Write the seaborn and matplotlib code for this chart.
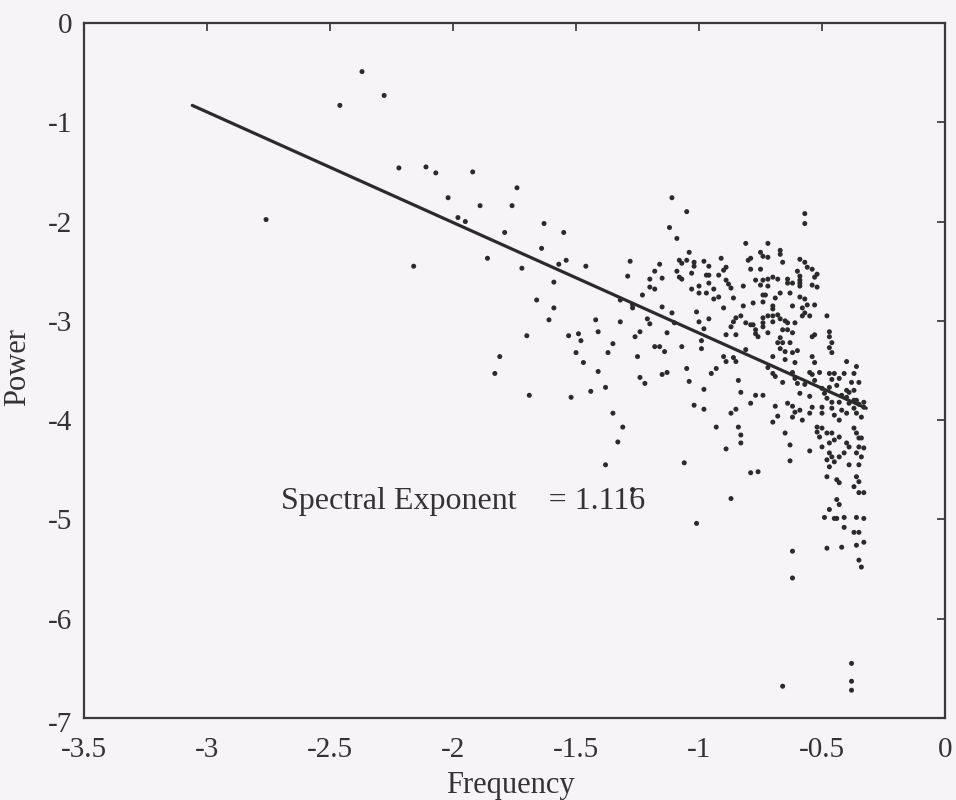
import matplotlib
matplotlib.use("Agg")
import matplotlib.pyplot as plt
import matplotlib.transforms as mtransforms
import seaborn as sns
import pandas as pd

# ---- data (log frequency, log power) ----
pts_left = [(-2.37,-0.49),(-2.28,-0.73),(-2.46,-0.83),(-2.22,-1.46),(-2.11,-1.45),(-2.07,-1.51),(-1.92,-1.50),(-1.74,-1.66),
            (-2.02,-1.76),(-1.89,-1.84),(-1.76,-1.84),(-2.76,-1.98),(-1.98,-1.96),(-1.95,-2.00),(-1.63,-2.02),(-1.79,-2.11),
            (-1.55,-2.11),(-1.64,-2.27),(-1.86,-2.37),(-2.16,-2.45),(-1.72,-2.47),(-1.57,-2.43),(-1.54,-2.39),(-1.46,-2.45),
            (-1.59,-2.61),(-1.66,-2.79),(-1.59,-2.87),(-1.61,-2.99),(-1.42,-2.99),(-1.70,-3.15),(-1.53,-3.15),(-1.49,-3.13),
            (-1.48,-3.20),(-1.41,-3.11),(-1.35,-3.23),(-1.50,-3.32),(-1.37,-3.32),(-1.81,-3.36),(-1.47,-3.42),(-1.83,-3.53),
            (-1.41,-3.51),(-1.69,-3.75),(-1.52,-3.77),(-1.44,-3.71),(-1.38,-3.67),(-1.35,-3.93),(-1.33,-4.22),(-1.38,-4.45)]

pts_mid = [(-1.11,-1.76),(-1.05,-1.90),(-1.12,-2.06),(-1.09,-2.17),(-1.04,-2.31),(-1.28,-2.40),(-1.16,-2.43),(-1.08,-2.39),
           (-1.07,-2.42),(-1.05,-2.39),(-1.02,-2.41),(-1.02,-2.45),(-0.98,-2.40),(-0.96,-2.45),(-1.29,-2.55),(-1.18,-2.50),
           (-1.09,-2.50),(-1.03,-2.52),(-0.97,-2.54),(-0.96,-2.54),(-1.20,-2.58),(-1.15,-2.57),(-1.08,-2.56),(-1.07,-2.58),
           (-0.92,-2.54),(-1.20,-2.66),(-1.18,-2.68),(-1.03,-2.68),(-1.00,-2.65),(-0.96,-2.62),(-1.00,-2.72),(-0.97,-2.72),
           (-0.94,-2.68),(-0.92,-2.76),(-0.94,-2.78),(-1.23,-2.74),(-1.32,-2.79),(-1.27,-2.84),(-1.27,-2.87),(-1.15,-2.86),
           (-1.01,-2.91),(-0.96,-2.98),(-1.32,-3.01),(-1.21,-2.98),(-1.20,-3.03),(-1.11,-2.92),(-1.10,-3.02),(-1.00,-3.01),
           (-1.24,-3.11),(-1.26,-3.16),(-1.13,-3.12),(-0.98,-3.08),(-0.99,-3.20),(-1.18,-3.26),(-1.16,-3.26),(-1.14,-3.31),
           (-1.07,-3.26),(-0.99,-3.28),(-1.25,-3.36),(-1.05,-3.48),(-0.93,-3.48),(-1.15,-3.54),(-1.13,-3.52),(-0.95,-3.53),
           (-1.24,-3.57),(-1.22,-3.63),(-1.04,-3.61),(-0.98,-3.69)]

pts_upper_right = [(-0.57,-1.92),(-0.57,-2.02),(-0.81,-2.22),(-0.72,-2.22),(-0.67,-2.29),(-0.67,-2.33),(-0.75,-2.31),(-0.74,-2.35),
           (-0.72,-2.36),(-0.91,-2.37),(-0.80,-2.39),(-0.79,-2.37),(-0.66,-2.41),(-0.59,-2.38),(-0.57,-2.41),(-0.56,-2.46),
           (-0.54,-2.48),(-0.89,-2.46),(-0.90,-2.49),(-0.79,-2.48),(-0.75,-2.48),(-0.60,-2.50),(-0.52,-2.53),(-0.59,-2.55),
           (-0.59,-2.59),(-0.59,-2.62),(-0.53,-2.56),(-0.89,-2.59),(-0.88,-2.63),(-0.87,-2.67),(-0.77,-2.59),(-0.74,-2.59),
           (-0.72,-2.58),(-0.70,-2.56),(-0.68,-2.58),(-0.64,-2.58),(-0.64,-2.62),(-0.62,-2.62),(-0.59,-2.65),(-0.82,-2.65),
           (-0.75,-2.64),(-0.72,-2.65),(-0.54,-2.64),(-0.52,-2.66),(-0.74,-2.74),(-0.73,-2.74),(-0.67,-2.72),(-0.63,-2.72),
           (-0.59,-2.76),(-0.57,-2.78),(-0.86,-2.77),(-0.69,-2.77),(-0.78,-2.82),(-0.74,-2.81),(-0.70,-2.85),(-0.62,-2.85),
           (-0.56,-2.84),(-0.53,-2.84),(-0.90,-2.87),(-0.82,-2.85),(-0.70,-2.88),(-0.58,-2.87),(-0.57,-2.92),(-0.55,-2.95),
           (-0.58,-2.95),(-0.83,-2.95),(-0.72,-2.95),(-0.70,-2.95),(-0.68,-2.94),(-0.85,-2.97),(-0.74,-2.97),(-0.67,-2.98),
           (-0.65,-3.00),(-0.86,-3.01),(-0.81,-3.02),(-0.79,-3.04),(-0.78,-3.04),(-0.74,-3.02),(-0.74,-3.06),(-0.70,-3.01),
           (-0.64,-3.02),(-0.61,-3.02),(-0.87,-3.06),(-0.89,-3.14),(-0.85,-3.14),(-0.77,-3.09),(-0.77,-3.13),(-0.76,-3.16),
           (-0.72,-3.12),(-0.66,-3.09),(-0.64,-3.09),(-0.62,-3.12),(-0.67,-3.17),(-0.68,-3.22),(-0.66,-3.22),(-0.63,-3.22),
           (-0.54,-3.16),(-0.53,-3.14),(-0.90,-3.36),(-0.89,-3.41),(-0.86,-3.37),(-0.85,-3.41),(-0.81,-3.29),(-0.70,-3.36),
           (-0.67,-3.28),(-0.65,-3.31),(-0.62,-3.32),(-0.60,-3.30),(-0.65,-3.39),(-0.61,-3.42),(-0.54,-3.36),(-0.53,-3.42),
           (-0.72,-3.47),(-0.70,-3.53),(-0.69,-3.56),(-0.62,-3.52),(-0.61,-3.58),(-0.55,-3.52),(-0.54,-3.54),(-0.84,-3.60),
           (-0.66,-3.62),(-0.60,-3.63),(-0.57,-3.64),(-0.83,-3.72),(-0.77,-3.75),(-0.74,-3.75),(-0.59,-3.73),(-0.55,-3.76)]

pts_edge = [(-0.48,-2.95),(-0.47,-3.11),(-0.47,-3.16),(-0.46,-3.22),(-0.47,-3.27),(-0.46,-3.32),(-0.40,-3.41),(-0.36,-3.46),
            (-0.51,-3.52),(-0.47,-3.53),(-0.45,-3.53),(-0.41,-3.53),(-0.37,-3.53),(-0.53,-3.60),(-0.46,-3.59),(-0.43,-3.58),
            (-0.38,-3.62),(-0.35,-3.62),(-0.50,-3.68),(-0.47,-3.67),(-0.44,-3.65),(-0.40,-3.70),(-0.39,-3.72),(-0.37,-3.70),
            (-0.49,-3.73),(-0.42,-3.75),(-0.40,-3.77),(-0.37,-3.80),(-0.36,-3.80),(-0.33,-3.82),(-0.48,-3.78),(-0.46,-3.82),
            (-0.43,-3.82),(-0.39,-3.83),(-0.35,-3.84),(-0.33,-3.87),(-0.50,-3.87),(-0.46,-3.88),(-0.42,-3.90),(-0.37,-3.88),
            (-0.50,-3.93),(-0.45,-3.95),(-0.43,-4.00),(-0.40,-3.93),(-0.36,-3.93),(-0.34,-3.97),(-0.52,-4.07),(-0.50,-4.08),
            (-0.48,-4.13),(-0.46,-4.13),(-0.43,-4.17),(-0.37,-4.08),(-0.36,-4.13),(-0.35,-4.18),(-0.34,-4.18),(-0.51,-4.17),
            (-0.47,-4.23),(-0.45,-4.20),(-0.40,-4.23),(-0.39,-4.27),(-0.35,-4.27),(-0.33,-4.28),(-0.50,-4.27),(-0.47,-4.33),
            (-0.46,-4.37),(-0.43,-4.37),(-0.41,-4.33),(-0.36,-4.33),(-0.34,-4.37),(-0.48,-4.40),(-0.45,-4.42),(-0.39,-4.45),
            (-0.35,-4.45),(-0.47,-4.47),(-0.48,-4.57),(-0.44,-4.60),(-0.43,-4.63),(-0.36,-4.57),(-0.35,-4.62),(-0.37,-4.67),
            (-0.33,-4.73),(-0.44,-4.80),(-0.43,-4.85),(-0.35,-4.73),(-0.47,-4.90),(-0.45,-4.99),(-0.44,-4.99),(-0.41,-4.98),
            (-0.36,-4.98),(-0.33,-4.99),(-0.49,-4.98),(-0.41,-5.08),(-0.37,-5.13),(-0.35,-5.13),(-0.48,-5.29),(-0.42,-5.28),
            (-0.36,-5.26),(-0.33,-5.23),(-0.35,-5.41),(-0.34,-5.48),(-0.38,-6.45),(-0.38,-6.63),(-0.38,-6.72)]

pts_lower = [(-1.31,-4.07),(-1.02,-3.85),(-0.98,-3.89),(-0.93,-4.07),(-1.06,-4.43),(-1.27,-4.70),(-1.01,-5.04),(-0.87,-3.93),
             (-0.85,-3.89),(-0.79,-3.83),(-0.84,-4.07),(-0.83,-4.15),(-0.83,-4.23),(-0.89,-4.29),(-0.69,-3.86),(-0.68,-3.96),
             (-0.70,-4.02),(-0.64,-3.83),(-0.62,-3.86),(-0.61,-3.92),(-0.62,-3.97),(-0.55,-3.93),(-0.65,-4.13),(-0.63,-4.25),
             (-0.63,-4.41),(-0.55,-4.31),(-0.52,-4.12),(-0.79,-4.53),(-0.76,-4.52),(-0.87,-4.79),(-0.62,-5.32),(-0.62,-5.59),
             (-0.66,-6.68),(-0.59,-3.90),(-0.54,-3.87),(-0.58,-4.00)]

fit_freq = [-3.06, -0.32]
fit_power = [-0.83, -3.88]
exponent_label = "Spectral Exponent    = 1.116"

x_ticks = [-3.5, -3, -2.5, -2, -1.5, -1, -0.5, 0]
x_tick_labels = ["-3.5", "-3", "-2.5", "-2", "-1.5", "-1", "-0.5", "0"]
y_ticks = [0, -1, -2, -3, -4, -5, -6, -7]
y_tick_labels = ["0", "-1", "-2", "-3", "-4", "-5", "-6", "-7"]

all_pts = pts_left + pts_mid + pts_upper_right + pts_edge + pts_lower
df = pd.DataFrame(all_pts, columns=["Frequency", "Power"])
fit_df = pd.DataFrame({"Frequency": fit_freq, "Power": fit_power})

# ---- style ----
sns.set_theme(style="white")
bg = "#f6f4f6"
ink = "#333333"
plt.rcParams["font.family"] = ["Liberation Serif", "DejaVu Serif"]
plt.rcParams["axes.unicode_minus"] = False

fig = plt.figure(figsize=(9.56, 8.0), dpi=100, facecolor=bg)
ax = fig.add_axes([0.0879, 0.1025, 0.9006, 0.8688])
ax.set_facecolor(bg)

sns.scatterplot(data=df, x="Frequency", y="Power", ax=ax, s=13, color="#2b2b2b",
                edgecolor="none", linewidth=0, legend=False)
sns.lineplot(data=fit_df, x="Frequency", y="Power", ax=ax, color="#2b2b2b",
             linewidth=2.3, legend=False)

ax.set_xlim(-3.5, 0)
ax.set_ylim(-7, 0)
ax.set_xticks(x_ticks)
ax.set_xticklabels(x_tick_labels)
ax.set_yticks(y_ticks)
ax.set_yticklabels(y_tick_labels)

ax.tick_params(axis="both", which="both", direction="in", length=6, width=1.2,
               colors=ink, labelsize=21, top=True, right=True)
ax.tick_params(axis="x", pad=13.5)
ax.tick_params(axis="y", pad=8.5)
for sp in ax.spines.values():
    sp.set_visible(True)
    sp.set_color("#3a3a3a")
    sp.set_linewidth(1.6)

# the bottom "-7" label sits slightly low in the corner, as in the scan
lowest = ax.get_yticklabels()[-1]
lowest.set_transform(lowest.get_transform() +
                     mtransforms.ScaledTranslation(0, -0.04, fig.dpi_scale_trans))

ax.set_xlabel("Frequency", fontsize=22, color=ink)
ax.set_ylabel("Power", fontsize=22, color=ink)
ax.xaxis.set_label_coords(0.495, -0.076)
ax.xaxis.label.set_va("top")
ax.yaxis.set_label_coords(-0.077, 0.505)
ax.yaxis.label.set_va("center")

ax.text(-2.70, -4.82, exponent_label, fontsize=23, color=ink, ha="left", va="center")

fig.savefig("out.png", dpi=100, facecolor=bg)
